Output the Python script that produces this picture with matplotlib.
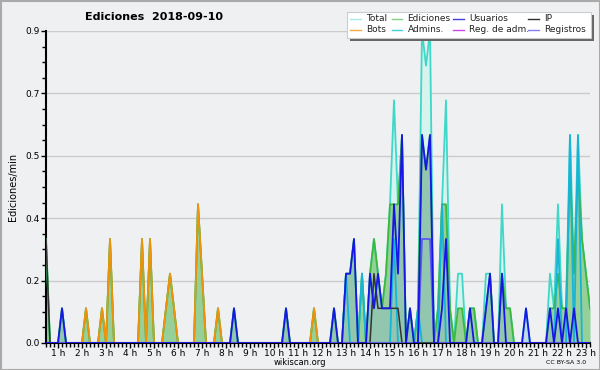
import numpy as np
import matplotlib.pyplot as plt
from matplotlib.patches import Rectangle
from matplotlib.lines import Line2D

# 10-minute bins, counts of edits per bin (value = count / 10 per minute)
start_hour = 0.5
n_bins = 137

total = {"00:30": 3, "01:10": 1, "02:10": 1, "02:50": 1, "03:10": 3, "04:30": 3, "04:50": 3,
         "05:30": 1, "05:40": 2, "05:50": 1, "06:50": 4, "07:00": 2, "07:40": 1, "08:20": 1,
         "10:30": 1, "11:40": 1, "12:30": 1, "13:00": 2, "13:10": 2, "13:20": 3, "13:40": 2,
         "14:00": 2, "14:10": 3, "14:20": 2, "14:30": 1, "14:40": 2, "14:50": 4, "15:00": 7,
         "15:10": 4, "15:20": 6, "15:40": 1, "16:00": 1, "16:10": 9, "16:20": 8, "16:30": 9,
         "16:50": 1, "17:00": 4, "17:10": 7, "17:20": 1, "17:40": 2, "17:50": 2, "18:10": 1,
         "18:20": 1, "18:50": 2, "19:00": 2, "19:30": 4, "19:40": 1, "19:50": 1, "20:30": 1,
         "21:30": 2, "21:40": 1, "21:50": 4, "22:00": 1, "22:10": 1, "22:20": 6, "22:30": 2,
         "22:40": 6, "22:50": 3, "23:00": 2, "23:10": 1}
ediciones = {"00:30": 3, "01:10": 1, "02:10": 1, "02:50": 1, "03:10": 3, "04:30": 3, "04:50": 3,
             "05:30": 1, "05:40": 2, "05:50": 1, "06:50": 4, "07:00": 2, "07:40": 1, "08:20": 1,
             "10:30": 1, "11:40": 1, "12:30": 1, "13:00": 2, "13:10": 2, "13:20": 3, "13:40": 2,
             "14:00": 2, "14:10": 3, "14:20": 2, "14:30": 1, "14:40": 2, "14:50": 4, "15:00": 4,
             "15:10": 4, "15:20": 6, "15:40": 1, "16:00": 1, "16:10": 6, "16:20": 5, "16:30": 6,
             "16:50": 1, "17:00": 4, "17:10": 4, "17:20": 1, "17:40": 1, "17:50": 1, "18:10": 1,
             "18:20": 1, "18:50": 1, "19:00": 2, "19:30": 2, "19:40": 1, "19:50": 1, "21:30": 1,
             "21:40": 1, "21:50": 2, "22:00": 1, "22:10": 1, "22:20": 5, "22:30": 2, "22:40": 5,
             "22:50": 3, "23:00": 2, "23:10": 1}
usuarios = {"01:10": 1, "08:20": 1, "10:30": 1, "12:30": 1, "13:00": 2, "13:10": 2, "13:20": 3,
            "14:00": 2, "14:10": 1, "14:20": 2, "14:30": 1, "14:40": 1, "14:50": 1, "15:00": 4,
            "15:10": 2, "15:20": 6, "15:40": 1, "16:10": 6, "16:20": 5, "16:30": 6, "17:00": 1,
            "17:10": 3, "18:10": 1, "18:50": 1, "19:00": 2, "19:30": 2, "20:30": 1, "21:30": 1,
            "21:50": 1, "22:10": 1, "22:30": 1}
ip = {"00:30": 3, "14:10": 2, "14:20": 1, "14:30": 1, "14:40": 1, "14:50": 1, "15:00": 1,
      "15:10": 1}
bots = {"02:10": 1, "02:50": 1, "03:10": 3, "04:30": 3, "04:50": 3, "05:30": 1, "05:40": 2,
        "05:50": 1, "06:50": 4, "07:00": 2, "07:40": 1, "11:40": 1}
admins = {"13:00": 2, "13:40": 2, "15:00": 3, "16:00": 1, "17:00": 4, "21:50": 3, "22:20": 6,
          "22:40": 6}
reg_adm = {}
registros = {"16:10": 3, "16:20": 3, "16:30": 3}

labels = ["Total", "Bots", "Ediciones", "Admins.", "Usuarios", "Reg. de adm.", "IP", "Registros"]
colors = {"Total": "#3fd8c8", "Bots": "#f0920a", "Ediciones": "#3cb93c", "Admins.": "#18b4d8",
          "Usuarios": "#1616e6", "Reg. de adm.": "#c040e0", "IP": "#333333", "Registros": "#5a5af0"}
legend_colors = {"Total": "#a8e8e8", "Bots": "#f4a848", "Ediciones": "#80d080", "Admins.": "#40d0e0",
                 "Usuarios": "#4040e0", "Reg. de adm.": "#c848e8", "IP": "#303030", "Registros": "#8080f0"}


def to_series(d):
    vals = np.zeros(n_bins)
    for k, v in d.items():
        h, m = k.split(":")
        i = int(round((int(h) + int(m) / 60 - start_hour) * 6))
        vals[i] = v / 10
    return vals


x = start_hour + np.arange(n_bins) / 6
bg = "#eff0f2"

fig = plt.figure(figsize=(6, 3.7), dpi=100, facecolor=bg)
ax = fig.add_axes([46 / 600, 1 - 343 / 370, 544 / 600, 312 / 370], facecolor=bg)

s_total = to_series(total)
s_ed = to_series(ediciones)
s_us = to_series(usuarios)

ax.fill_between(x, s_total, color="#d6f3ee", lw=0, zorder=1)
ax.fill_between(x, s_ed, color="#8fcc8f", alpha=0.9, lw=0, zorder=2)
ax.fill_between(x, s_us, color="#8fb8d8", alpha=0.35, lw=0, zorder=2)

lw = 1.3
ax.plot(x, s_total, color=colors["Total"], lw=lw, zorder=3)
ax.plot(x, s_ed, color=colors["Ediciones"], lw=lw, zorder=4)
ax.plot(x, to_series(bots), color=colors["Bots"], lw=lw, zorder=5)
ax.plot(x, to_series(admins), color=colors["Admins."], lw=lw, zorder=5)
ax.plot(x, to_series(ip), color=colors["IP"], lw=1.1, zorder=6)
ax.plot(x, to_series(registros), color=colors["Registros"], lw=lw, zorder=6)
ax.plot(x, s_us, color=colors["Usuarios"], lw=lw, zorder=7)

ax.set_xlim(start_hour, start_hour + (n_bins - 1) / 6)
ax.set_ylim(0, 0.9)

yt = np.linspace(0, 0.9, 6)
ax.set_yticks(yt)
ax.set_yticklabels(["%.1f" % v for v in yt])
ax.set_yticks(np.linspace(0, 0.9, 21), minor=True)
hours = np.arange(1, 24)
ax.set_xticks(hours)
ax.set_xticklabels(["%d h" % h for h in hours])
ax.set_xticks(start_hour + np.arange(n_bins) / 6, minor=True)
ax.tick_params(axis="both", which="both", direction="out", color="black", labelsize=6.5,
               pad=1, length=3.5, width=1)
ax.tick_params(axis="y", which="minor", length=3)
ax.tick_params(axis="x", which="minor", length=3)
for y in yt[1:]:
    ax.axhline(y, color="#cccccc", lw=1, zorder=0.5)

for side in ["top", "right"]:
    ax.spines[side].set_visible(False)
ax.spines["left"].set_linewidth(1.5)
ax.spines["bottom"].set_linewidth(1.5)

ax.set_ylabel("Ediciones/min", fontsize=7, labelpad=5)
fig.text(154 / 600, 1 - 17 / 370, "Ediciones  2018-09-10", fontsize=8, fontweight="bold",
         ha="center", va="center")
fig.text(300 / 600, 1 - 362.5 / 370, "wikiscan.org", fontsize=6, ha="center", va="center")
fig.text(586 / 600, 1 - 362.5 / 370, "CC BY-SA 3.0", fontsize=4.5, ha="right", va="center")

# legend box with shadow
fig.patches.append(Rectangle((350 / 600, 1 - 41 / 370), 244 / 600, 26 / 370,
                             transform=fig.transFigure, facecolor="#666666", edgecolor="none"))
fig.patches.append(Rectangle((347 / 600, 1 - 38 / 370), 244 / 600, 26 / 370,
                             transform=fig.transFigure, facecolor="white", edgecolor="#cccccc",
                             lw=0.8))
col_x = [350, 391.5, 453, 528]
row_y = [18.5, 29.5]
for j, name in enumerate(labels):
    cx = col_x[j // 2]
    cy = row_y[j % 2]
    fig.lines.append(Line2D([cx / 600, (cx + 11) / 600], [1 - cy / 370, 1 - cy / 370],
                            transform=fig.transFigure, color=legend_colors[name], lw=1))
    fig.text((cx + 16) / 600, 1 - cy / 370, name, fontsize=6.5, ha="left", va="center",
             color="#222222")

# outer border
fig.patches.append(Rectangle((0.5 / 600, 0.5 / 370), 599 / 600, 369 / 370, transform=fig.transFigure,
                             facecolor="none", edgecolor="#aaaaaa", lw=1.5))

fig.savefig("out.png", dpi=100, facecolor=bg)
